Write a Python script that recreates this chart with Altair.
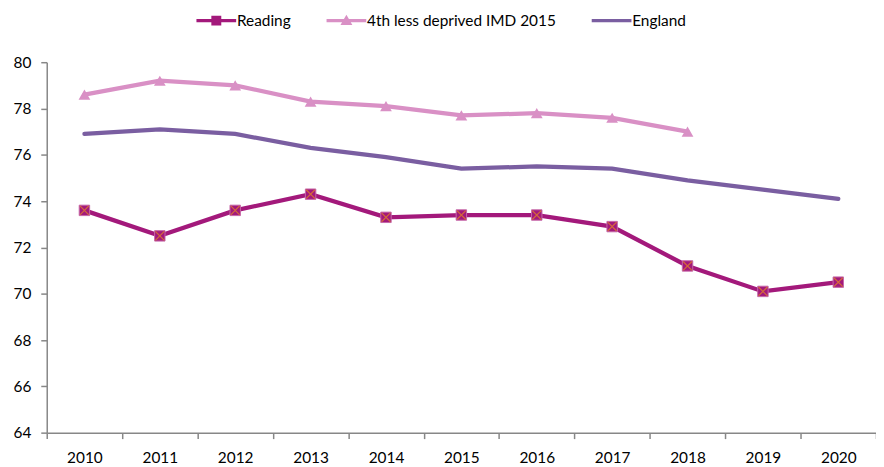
import altair as alt
import pandas as pd

years = [str(y) for y in range(2010, 2021)]
reading = [73.6, 72.5, 73.6, 74.3, 73.3, 73.4, 73.4, 72.9, 71.2, 70.1, 70.5]
fourth = [78.6, 79.2, 79.0, 78.3, 78.1, 77.7, 77.8, 77.6, 77.0]
england = [76.9, 77.1, 76.9, 76.3, 75.9, 75.4, 75.5, 75.4, 74.9, 74.5, 74.1]
series = ["Reading", "4th less deprived IMD 2015", "England"]
colors = ["#a3197b", "#d990c5", "#7a5ea1"]
y_ticks = [64, 66, 68, 70, 72, 74, 76, 78, 80]

rows = []
for name, vals in zip(series, [reading, fourth, england]):
    for yr, v in zip(years, vals):
        rows.append({"year": yr, "value": v, "series": name})
df = pd.DataFrame(rows)

FONT = "Lato"
AX = "#878787"

x_enc = alt.X(
    "year:O",
    scale=alt.Scale(type="band", paddingInner=0, paddingOuter=0),
    axis=alt.Axis(
        title=None, labelAngle=0, tickBand="extent", grid=False,
        domainColor=AX, domainWidth=1.5, tickColor=AX, tickWidth=1.5, tickSize=6,
        labelFont=FONT, labelFontSize=15.5, labelColor="#000", labelPadding=12,
    ),
)
y_enc = alt.Y(
    "value:Q",
    scale=alt.Scale(domain=[64, 80], nice=False, zero=False),
    axis=alt.Axis(
        title=None, values=y_ticks, grid=False,
        domainColor=AX, domainWidth=1.5, tickColor=AX, tickWidth=1.5, tickSize=6,
        labelFont=FONT, labelFontSize=15.5, labelColor="#000", labelPadding=10,
    ),
)

base = alt.Chart(df)

lines = base.mark_line(strokeWidth=4.3, strokeCap="round").encode(
    x=x_enc, y=y_enc,
    color=alt.Color("series:N", scale=alt.Scale(domain=series, range=colors), legend=None),
    detail="series:N",
)

squares = base.transform_filter(alt.datum.series == "Reading").mark_square(
    size=110, color=colors[0], opacity=1, stroke="#c768a8", strokeWidth=1
).encode(x=x_enc, y=y_enc)

crosses = base.transform_filter(alt.datum.series == "Reading").mark_point(
    shape="M-1,-1L1,1M1,-1L-1,1", size=80, filled=False, stroke="#d46a3a",
    strokeWidth=1.2, opacity=1
).encode(x=x_enc, y=y_enc)

triangles = base.transform_filter(alt.datum.series == series[1]).mark_point(
    shape="triangle-up", filled=True, size=140, color=colors[1], opacity=1
).encode(x=x_enc, y=y_enc)

legend_paths = [
    "M-4,-0.35H4V0.35H-4Z M-1,-1H1V1H-1Z",
    "M-4,-0.35H4V0.35H-4Z M0,-1.2L1.2,0.9H-1.2Z",
    "M-4,-0.35H4V0.35H-4Z",
]
leg = alt.Legend(
    title=None, orient="none", direction="horizontal", legendX=163, legendY=-50,
    labelFont=FONT, labelFontSize=15.5, labelColor="#000", symbolSize=100,
    symbolOpacity=1, symbolStrokeWidth=0, labelOffset=13, columnPadding=35,
    labelLimit=0,
)
legend_layer = base.mark_point(filled=True, opacity=0).encode(
    x=x_enc, y=y_enc,
    color=alt.Color("series:N", scale=alt.Scale(domain=series, range=colors), legend=leg),
    shape=alt.Shape("series:N", scale=alt.Scale(domain=series, range=legend_paths), legend=leg),
)

chart = alt.layer(lines, squares, crosses, triangles, legend_layer).resolve_scale(
    color="independent", shape="independent"
).properties(
    width=835, height=373,
    autosize=alt.AutoSizeParams(type="none"),
    padding={"left": 39, "top": 53, "right": 0, "bottom": 33},
).configure_view(stroke=None)

chart.save("out.html", embed_options={"renderer": "svg", "actions": False})
